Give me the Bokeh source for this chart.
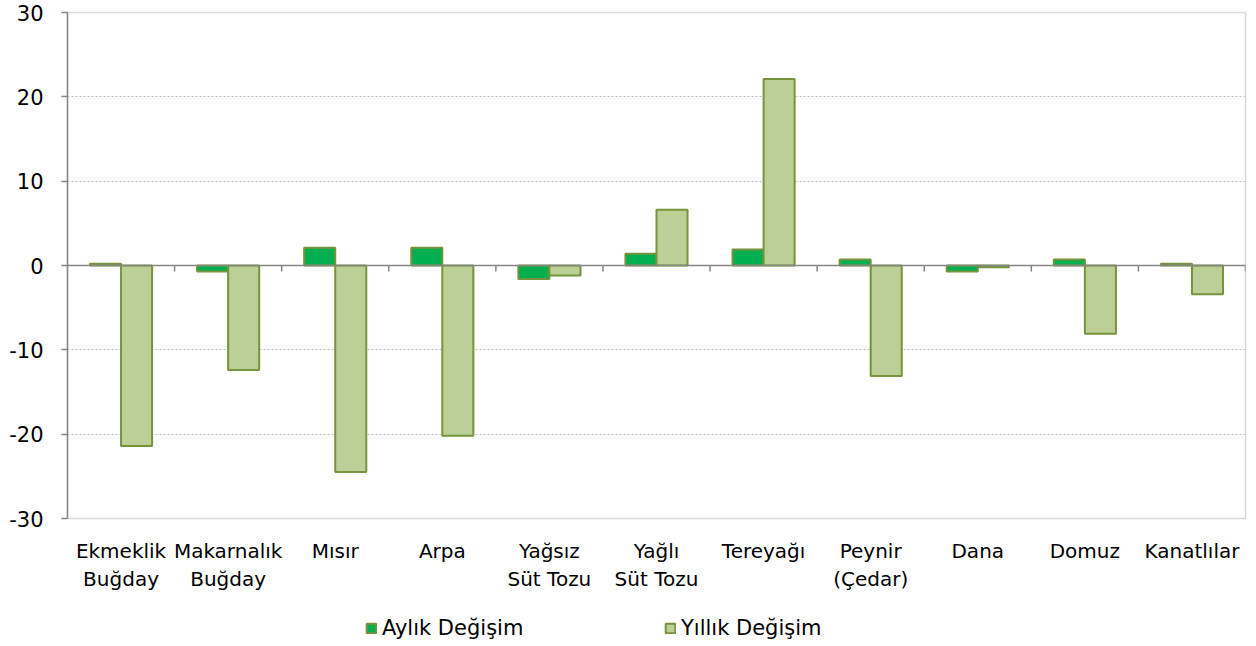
from bokeh.plotting import figure
from bokeh.layouts import column
from bokeh.models import (Range1d, LinearAxis, FixedTicker, CustomJSTickFormatter,
                          Span, Legend, LegendItem, ColumnDataSource)
from bokeh.embed import file_html
from bokeh.resources import INLINE

categories = ["Ekmeklik\nBuğday", "Makarnalık\nBuğday", "Mısır", "Arpa",
              "Yağsız\nSüt Tozu", "Yağlı\nSüt Tozu", "Tereyağı", "Peynir\n(Çedar)",
              "Dana", "Domuz", "Kanatlılar"]
monthly = [0.2, -0.7, 2.1, 2.1, -1.6, 1.4, 1.9, 0.7, -0.7, 0.7, 0.2]
annual = [-21.4, -12.4, -24.5, -20.2, -1.2, 6.6, 22.1, -13.1, -0.2, -8.1, -3.4]
y_ticks = [-30, -20, -10, 0, 10, 20, 30]
series_names = ["Aylık Değişim", "Yıllık Değişim"]

FONT = "DejaVu Sans"
FSIZE = "21px"
XSIZE = "20px"
OUTLINE = "#77933C"
C_MONTH = "#00B050"
C_YEAR = "#BBCF97"
AXIS_GRAY = "#868686"

n = len(categories)
bw = 0.29
idx = list(range(n))
centers = [i + 0.5 for i in idx]
src = ColumnDataSource(dict(
    xm=[c - bw / 2 for c in centers],
    xa=[c + bw / 2 for c in centers],
    m=monthly, a=annual,
))

W = 1256
H_MAIN = 600
H_LEG = 46

p = figure(width=W, height=H_MAIN, output_backend="svg", toolbar_location=None,
           x_range=Range1d(0, n), y_range=Range1d(-30, 30),
           x_axis_location=None, y_axis_location=None,
           min_border_left=67, min_border_right=11, min_border_top=12,
           min_border_bottom=82)
p.outline_line_color = "#D9D9D9"
p.outline_line_width = 1.5
p.background_fill_color = "white"
p.border_fill_color = "white"

# grid
p.xgrid.visible = False
p.ygrid.ticker = FixedTicker(ticks=[t for t in y_ticks if t != 0])
p.ygrid.grid_line_color = "#BFBFBF"
p.ygrid.grid_line_dash = "2 2"
p.ygrid.grid_line_width = 1

# y axis
yax = LinearAxis(ticker=FixedTicker(ticks=y_ticks),
                 formatter=CustomJSTickFormatter(code="return String(Math.round(tick));"))
yax.axis_line_color = AXIS_GRAY
yax.axis_line_width = 1.5
yax.major_tick_line_color = AXIS_GRAY
yax.major_tick_line_width = 1.5
yax.major_tick_out = 6
yax.major_tick_in = 0
yax.minor_tick_line_color = None
yax.major_label_text_font = FONT
yax.major_label_text_font_size = FSIZE
yax.major_label_text_color = "black"
yax.major_label_standoff = 18
p.add_layout(yax, "left")

# x axis (labels only)
xax = LinearAxis(ticker=FixedTicker(ticks=centers),
                 formatter=CustomJSTickFormatter(args=dict(labels=categories),
                                                 code="return labels[Math.floor(tick)];"))
xax.axis_line_color = None
xax.major_tick_line_color = None
xax.minor_tick_line_color = None
xax.major_label_text_font = FONT
xax.major_label_text_font_size = XSIZE
xax.major_label_text_color = "black"
xax.major_label_standoff = 14
p.add_layout(xax, "below")

p.vbar(x="xm", top="m", bottom=0, width=bw, source=src,
       fill_color=C_MONTH, line_color=OUTLINE, line_width=2)
p.vbar(x="xa", top="a", bottom=0, width=bw, source=src,
       fill_color=C_YEAR, line_color=OUTLINE, line_width=2)

# zero line with category boundary ticks
p.add_layout(Span(location=0, dimension="width", line_color=AXIS_GRAY, line_width=1.5))
bounds = list(range(1, n + 1))
p.segment(x0=bounds, x1=bounds, y0=[0] * len(bounds), y1=[-0.7] * len(bounds),
          line_color=AXIS_GRAY, line_width=1.5)

# legend strip below the chart (hidden copies of the series supply the legend glyphs)
lg = figure(width=W, height=H_LEG, output_backend="svg", toolbar_location=None,
            x_range=Range1d(0, n), y_range=Range1d(-30, 30),
            x_axis_location=None, y_axis_location=None,
            min_border_left=0, min_border_right=0, min_border_top=0, min_border_bottom=0)
lg.outline_line_color = None
lg.xgrid.visible = False
lg.ygrid.visible = False
lr1 = lg.vbar(x="xm", top="m", bottom=0, width=bw, source=src,
              fill_color=C_MONTH, line_color=OUTLINE, line_width=2)
lr2 = lg.vbar(x="xa", top="a", bottom=0, width=bw, source=src,
              fill_color=C_YEAR, line_color=OUTLINE, line_width=2)
lr1.visible = False
lr2.visible = False

legend = Legend(items=[LegendItem(label=series_names[0], renderers=[lr1]),
                       LegendItem(label=series_names[1], renderers=[lr2])],
                orientation="horizontal", location=(298, 6))
legend.label_text_font = FONT
legend.label_text_font_size = FSIZE
legend.label_text_color = "black"
legend.glyph_width = 12
legend.glyph_height = 12
legend.label_standoff = 5
legend.label_width = 150
legend.spacing = 132
legend.padding = 0
legend.margin = 0
legend.border_line_color = None
legend.background_fill_alpha = 0
legend.inactive_fill_alpha = 0
lg.add_layout(legend)

layout = column(p, lg, spacing=0)
open("out.html", "w").write(file_html(layout, INLINE))
